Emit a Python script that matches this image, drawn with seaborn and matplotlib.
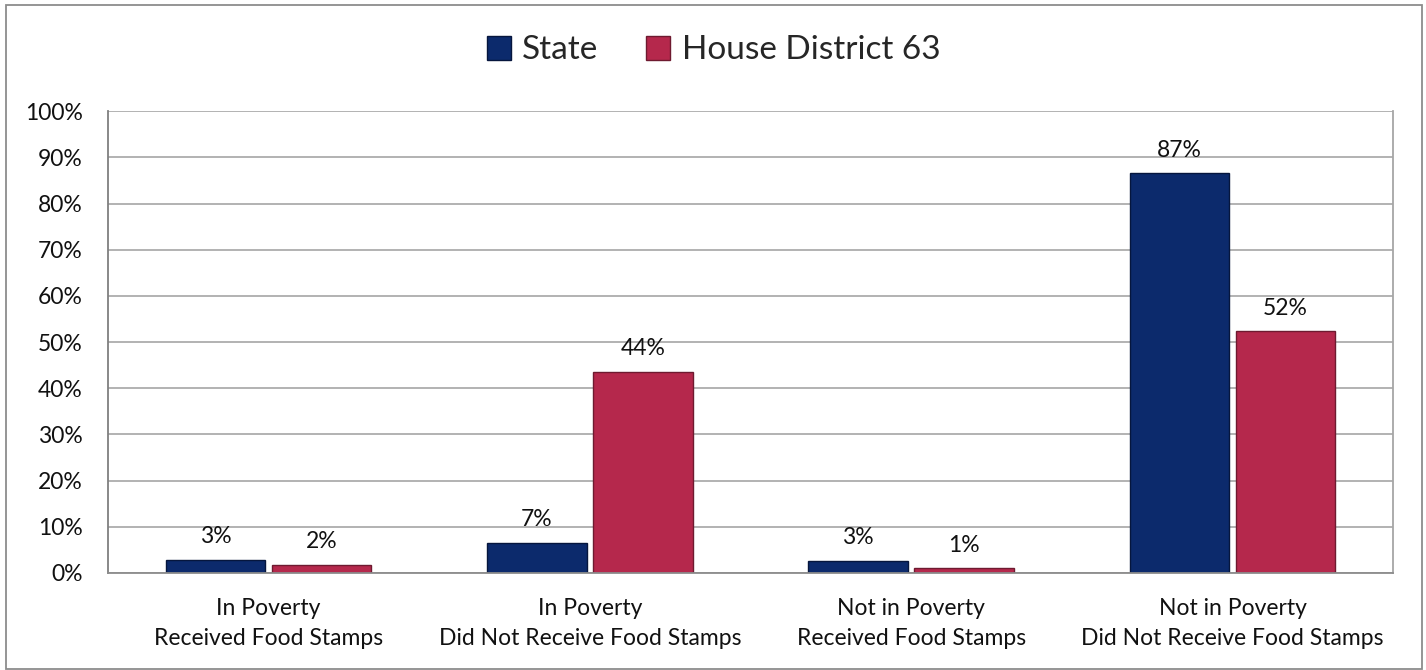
import matplotlib
matplotlib.use("Agg")
import matplotlib.pyplot as plt
import seaborn as sns
import pandas as pd
from matplotlib.lines import Line2D
from matplotlib.patches import Rectangle

categories = [
    "In Poverty\nReceived Food Stamps",
    "In Poverty\nDid Not Receive Food Stamps",
    "Not in Poverty\nReceived Food Stamps",
    "Not in Poverty\nDid Not Receive Food Stamps",
]
series_names = ["State", "House District 63"]
state_values = [2.9, 6.6, 2.7, 86.6]
district_values = [1.8, 43.6, 1.0, 52.4]
y_ticks = [0, 10, 20, 30, 40, 50, 60, 70, 80, 90, 100]

colors = ["#0c2a6c", "#b5284c"]
edge_colors = ["#06163d", "#6e1a30"]

df = pd.DataFrame({
    "Category": categories * 2,
    "Series": [series_names[0]] * 4 + [series_names[1]] * 4,
    "Value": state_values + district_values,
})

sns.set_theme(style="white")
plt.rcParams["font.family"] = ["Lato", "DejaVu Sans"]

fig = plt.figure(figsize=(14.26, 6.7), dpi=100)
ax = fig.add_axes([0.0757, 0.1448, 0.9013, 0.6892])

sns.barplot(data=df, x="Category", y="Value", hue="Series",
            palette=colors, width=0.66, gap=0.06, ax=ax,
            legend=False, errorbar=None, saturation=1)

for container, ec in zip(ax.containers, edge_colors):
    for bar in container:
        bar.set_edgecolor(ec)
        bar.set_linewidth(1.0)
    ax.bar_label(container, labels=[f"{v.get_height():.0f}%" for v in container],
                 padding=9, fontsize=16.5, color="#111111")

ax.set_ylim(0, 100)
ax.set_yticks(y_ticks)
ax.set_yticklabels([f"{t}%" for t in y_ticks], fontsize=16.5, color="#111111")
ax.tick_params(axis="y", pad=18, length=0)
ax.tick_params(axis="x", pad=18, length=0, labelsize=16.5, labelcolor="#111111")
for lbl in ax.get_xticklabels():
    lbl.set_linespacing(1.55)
ax.set_xlabel("")
ax.set_ylabel("")
ax.yaxis.grid(True, color="#a6a6a6", linewidth=1.2)
ax.set_axisbelow(True)

ax.spines["top"].set_visible(False)
ax.spines["left"].set_color("#7f7f7f")
ax.spines["bottom"].set_color("#8c8c8c")
ax.spines["right"].set_color("#a6a6a6")
for s in ax.spines.values():
    s.set_linewidth(1.3)

handles = [Line2D([0], [0], marker="s", linestyle="", markersize=17,
                  markerfacecolor=c, markeredgecolor=ec)
           for c, ec in zip(colors, edge_colors)]
fig.legend(handles, series_names, loc="center", bbox_to_anchor=(0.5, 0.925),
           ncol=2, frameon=False, fontsize=24, handlelength=0.8,
           handletextpad=0.3, columnspacing=1.4)

fig.patches.append(Rectangle((0.004, 0.002), 0.993, 0.99, transform=fig.transFigure,
                             fill=False, edgecolor="#8c8c8c", linewidth=1.3))

fig.savefig("out.png", dpi=100)
